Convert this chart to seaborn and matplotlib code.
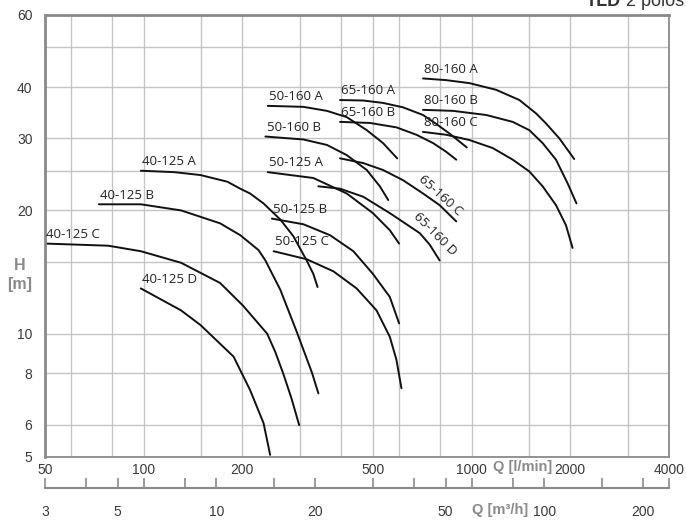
import pandas as pd
import seaborn as sns
import matplotlib.pyplot as plt
from matplotlib.ticker import NullLocator

# pump curves: Q in l/min, H in m
q_40125a = [98, 124, 149, 180, 197, 211, 232, 261, 286, 314, 329, 339]
h_40125a = [25.0, 24.8, 24.4, 23.5, 22.6, 22.0, 20.8, 19.0, 17.3, 15.1, 14.0, 13.0]
q_40125b = [73, 98, 130, 171, 197, 224, 235, 261, 293, 326, 341]
h_40125b = [20.7, 20.7, 20.0, 18.6, 17.4, 16.0, 15.1, 12.8, 10.1, 8.03, 7.15]
q_40125c = [50, 78, 98, 130, 171, 201, 238, 252, 266, 282, 298]
h_40125c = [16.6, 16.4, 15.9, 14.9, 13.3, 11.7, 10.0, 9.02, 8.02, 6.97, 5.98]
q_40125d = [98, 130, 149, 188, 211, 232, 243]
h_40125d = [12.9, 11.4, 10.5, 8.79, 7.29, 6.05, 5.06]
q_50125a = [239, 329, 416, 500, 563, 601]
h_50125a = [24.8, 24.0, 22.0, 19.7, 17.9, 16.6]
q_50125b = [246, 307, 370, 436, 500, 563, 601]
h_50125b = [19.1, 18.5, 17.4, 15.9, 14.0, 12.3, 10.6]
q_50125c = [249, 314, 379, 446, 513, 563, 590, 611]
h_50125c = [15.9, 15.2, 14.2, 12.9, 11.4, 9.83, 8.63, 7.36]
q_50160a = [239, 307, 362, 416, 479, 537, 593]
h_50160a = [36.0, 35.8, 35.0, 33.8, 31.4, 29.2, 26.8]
q_50160b = [235, 307, 362, 416, 479, 525, 557]
h_50160b = [30.3, 29.8, 28.9, 27.3, 25.1, 22.9, 21.2]
q_65160a = [397, 467, 537, 618, 711, 781, 857, 967]
h_65160a = [37.2, 37.1, 36.6, 35.7, 34.2, 32.5, 30.8, 28.5]
q_65160b = [397, 490, 590, 679, 763, 837, 898]
h_65160b = [32.9, 32.7, 31.9, 30.6, 29.2, 27.8, 26.6]
q_65160c = [397, 467, 537, 618, 711, 799, 898]
h_65160c = [26.8, 26.1, 25.1, 23.7, 22.0, 20.6, 18.8]
q_65160d = [341, 397, 467, 563, 695, 745, 799]
h_65160d = [22.9, 22.6, 21.6, 19.7, 17.6, 16.5, 15.1]
q_80160a = [711, 837, 986, 1188, 1399, 1573, 1687, 1851, 2056]
h_80160a = [42.0, 41.6, 40.9, 39.4, 37.2, 34.5, 32.6, 30.0, 26.7]
q_80160b = [711, 878, 1108, 1335, 1500, 1647, 1809, 1962, 2089]
h_80160b = [35.2, 35.0, 34.2, 32.9, 31.4, 29.2, 26.6, 23.3, 20.8]
q_80160c = [711, 837, 986, 1160, 1335, 1500, 1647, 1809, 1940, 2032]
h_80160c = [31.1, 30.6, 29.7, 28.4, 26.6, 24.9, 22.9, 20.6, 18.4, 16.2]

curves = {
    "40-125 A": (q_40125a, h_40125a), "40-125 B": (q_40125b, h_40125b),
    "40-125 C": (q_40125c, h_40125c), "40-125 D": (q_40125d, h_40125d),
    "50-125 A": (q_50125a, h_50125a), "50-125 B": (q_50125b, h_50125b),
    "50-125 C": (q_50125c, h_50125c), "50-160 A": (q_50160a, h_50160a),
    "50-160 B": (q_50160b, h_50160b), "65-160 A": (q_65160a, h_65160a),
    "65-160 B": (q_65160b, h_65160b), "65-160 C": (q_65160c, h_65160c),
    "65-160 D": (q_65160d, h_65160d), "80-160 A": (q_80160a, h_80160a),
    "80-160 B": (q_80160b, h_80160b), "80-160 C": (q_80160c, h_80160c),
}

x_grid = [50, 60, 80, 100, 150, 200, 300, 400, 500, 600, 800, 1000, 1500, 2000, 3000, 4000]
x_labels = [50, 100, 200, 500, 1000, 2000, 4000]
y_grid = [5, 6, 8, 10, 15, 20, 25, 30, 40, 50, 60]
y_labels = [5, 6, 8, 10, 20, 30, 40, 60]
m3h_ticks = [3, 4, 5, 6, 8, 10, 15, 20, 30, 40, 50, 60, 80, 100, 150, 200, 240]
m3h_labels = [3, 5, 10, 20, 50, 100, 200]

rows = []
for name, (qs, hs) in curves.items():
    for q, h in zip(qs, hs):
        rows.append({"model": name, "Q": q, "H": h})
df = pd.DataFrame(rows)

sns.set_style("white")
narrow = ["Liberation Sans", "DejaVu Sans"]
lab_font = ["Open Sans", "DejaVu Sans"]
grey = "#8a8a8a"
tick_col = "#3a3a3a"

fig = plt.figure(figsize=(6.86, 5.24), dpi=100)
ax = fig.add_axes([45 / 686, 1 - 457 / 524, 624 / 686, 442 / 524])

sns.lineplot(data=df, x="Q", y="H", hue="model", units="model", estimator=None,
             sort=False, palette=["#111111"] * len(curves), legend=False,
             linewidth=1.4, ax=ax)

ax.set_xscale("log")
ax.set_yscale("log")
ax.set_xlim(50, 4000)
ax.set_ylim(5, 60)
ax.set_xticks(x_grid)
ax.set_xticklabels([str(v) if v in x_labels else "" for v in x_grid],
                   family=narrow, fontsize=10, color=tick_col)
ax.set_yticks(y_grid)
ax.set_yticklabels([str(v) if v in y_labels else "" for v in y_grid],
                   family=narrow, fontsize=10, color=tick_col)
ax.xaxis.set_minor_locator(NullLocator())
ax.yaxis.set_minor_locator(NullLocator())
ax.tick_params(axis="x", length=0, pad=4)
ax.tick_params(axis="y", length=7, color=grey, width=1, pad=2)
ax.grid(True, color="#c4c4c4", linewidth=1)
ax.set_xlabel("")
ax.set_ylabel("")
for side, sp in ax.spines.items():
    sp.set_color(grey)
    sp.set_linewidth(2 if side in ("top", "left") else 1.3)

# second flow scale in m3/h
sec = ax.secondary_xaxis(-0.07, functions=(lambda q: q * 0.06, lambda m: m / 0.06))
sec.set_xticks(m3h_ticks)
sec.set_xticklabels([str(v) if v in m3h_labels else "" for v in m3h_ticks],
                    family=narrow, fontsize=10, color=tick_col)
sec.xaxis.set_minor_locator(NullLocator())
sec.tick_params(axis="x", direction="in", length=7, color=grey, width=1.2, pad=12)
sec.spines["bottom"].set_color(grey)
sec.spines["bottom"].set_linewidth(1.5)

# curve names
for name, (qs, hs) in curves.items():
    if name in ("65-160 C", "65-160 D"):
        continue
    ax.annotate(name, (qs[0], hs[0]), xytext=(1, 2), textcoords="offset points",
                ha="left", va="bottom", fontsize=9.5, family=lab_font, color="#222222")
ax.text(805, 21.7, "65-160 C", rotation=-42, ha="center", va="center",
        fontsize=9.5, family=lab_font, color="#222222", rotation_mode="anchor")
ax.text(772, 17.5, "65-160 D", rotation=-45, ha="center", va="center",
        fontsize=9.5, family=lab_font, color="#222222", rotation_mode="anchor")

fig.text(523 / 686, 1 - 467 / 524, "Q [l/min]", ha="center", va="center",
         fontsize=10.5, fontweight="bold", color=grey, family=narrow)
fig.text(500 / 686, 1 - 510 / 524, "Q [m³/h]", ha="center", va="center",
         fontsize=10.5, fontweight="bold", color=grey, family=narrow)
fig.text(20 / 686, 1 - 275 / 524, "H\n[m]", ha="center", va="center",
         fontsize=11.5, fontweight="bold", color=grey, family=narrow, linespacing=1.3)

t2 = fig.text(684 / 686, 1 - 6 / 524, " 2 polos", ha="right", va="baseline",
              fontsize=13, color="#333333", family=narrow)
fig.canvas.draw()
bb = t2.get_window_extent()
fig.text(bb.x0 / fig.bbox.width, 1 - 6 / 524, "TLD", ha="right", va="baseline",
         fontsize=13, fontweight="bold", color="#333333", family=narrow)

plt.savefig("out.png", dpi=100)
